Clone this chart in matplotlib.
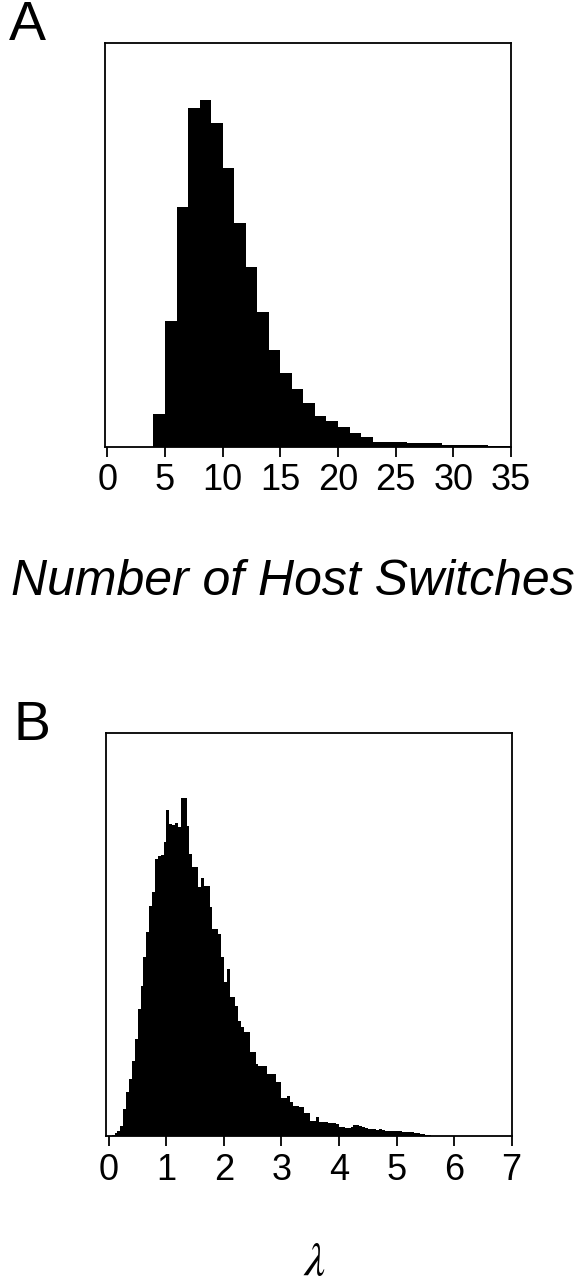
import matplotlib
matplotlib.use("Agg")
import matplotlib.pyplot as plt
import numpy as np

plt.rcParams["font.family"] = ["Liberation Sans", "DejaVu Sans"]
plt.rcParams["mathtext.fontset"] = "stix"

# Panel A: number of host switches (integer bins, relative frequency)
switch_bins = [4, 5, 6, 7, 8, 9, 10, 11, 12, 13, 14, 15, 16, 17, 18, 19,
               20, 21, 22, 23, 24, 25, 26, 27, 28, 29, 30, 31, 32, 33, 34]
switch_counts = [97, 377, 720, 1017, 1040, 970, 837, 672, 538, 405, 290, 220,
                 172, 130, 93, 77, 58, 40, 28, 15, 15, 15, 12, 12, 12, 5, 5,
                 4, 4, 3, 3]
switch_ticks = [0, 5, 10, 15, 20, 25, 30, 35]

# Panel B: lambda, bins of width 0.05 starting at 0.05
lambda_bin_width = 0.05
lambda_first_bin = 0.05
lambda_counts = [
    1, 3, 5, 10, 27, 44, 57, 75, 97, 127,            # 0.05 - 0.50
    150, 179, 204, 230, 244, 277, 280, 281, 294, 326,  # 0.55 - 1.00
    312, 311, 313, 309, 338, 338, 310, 282, 269, 269,  # 1.05 - 1.50
    249, 258, 250, 250, 229, 207, 207, 202, 179, 154,  # 1.55 - 2.00
    167, 139, 139, 130, 115, 109, 104, 104, 84, 84,    # 2.05 - 2.50
    72, 70, 70, 70, 62, 62, 62, 54, 54, 38,            # 2.55 - 3.00
    38, 40, 34, 30, 30, 29, 29, 23, 23, 15,            # 3.05 - 3.50
    15, 19, 14, 14, 14, 13, 13, 13, 12, 9,             # 3.55 - 4.00
    9, 8, 8, 9, 11, 11, 10, 9, 8, 7,                   # 4.05 - 4.50
    7, 7, 6, 7, 6, 5, 5, 5, 5, 5,                      # 4.55 - 5.00
    5, 4, 4, 4, 4, 3, 3, 2, 2, 1, 1,                   # 5.05 - 5.55
]
lambda_ticks = [0, 1, 2, 3, 4, 5, 6, 7]


def style_axes(ax, ticks):
    for side in ["left", "right", "top", "bottom"]:
        ax.spines[side].set_linewidth(1.3)
    ax.set_yticks([])
    ax.set_xticks(ticks)
    ax.tick_params(axis="x", direction="out", length=7, width=1.3,
                   pad=5, labelsize=26)


fig = plt.figure(figsize=(5.82, 12.87), dpi=100)

ax_a = fig.add_axes([0.1804, 0.6529, 0.6976, 0.3135])
ax_a.bar(switch_bins, switch_counts, width=1.0, align="edge",
         color="black", linewidth=0)
ax_a.set_xlim(-0.2, 35.0)
ax_a.set_ylim(0, 1210)
style_axes(ax_a, switch_ticks)

ax_b = fig.add_axes([0.1821, 0.1173, 0.6970, 0.3135])
lambda_left = lambda_first_bin + lambda_bin_width * np.arange(len(lambda_counts))
ax_b.bar(lambda_left, lambda_counts, width=lambda_bin_width, align="edge",
         color="black", linewidth=0)
ax_b.set_xlim(-0.05, 7.0)
ax_b.set_ylim(0, 403)
style_axes(ax_b, lambda_ticks)

fig.text(0.015, 0.969, "A", fontsize=40, ha="left", va="baseline")
fig.text(0.024, 0.425, "B", fontsize=40, ha="left", va="baseline")
fig.text(0.503, 0.5377, "Number of Host Switches", fontsize=36,
         style="italic", ha="center", va="baseline")
fig.text(0.541, 0.009, r"$\lambda$", fontsize=34, ha="center", va="baseline")

fig.savefig("out.png", dpi=100)
